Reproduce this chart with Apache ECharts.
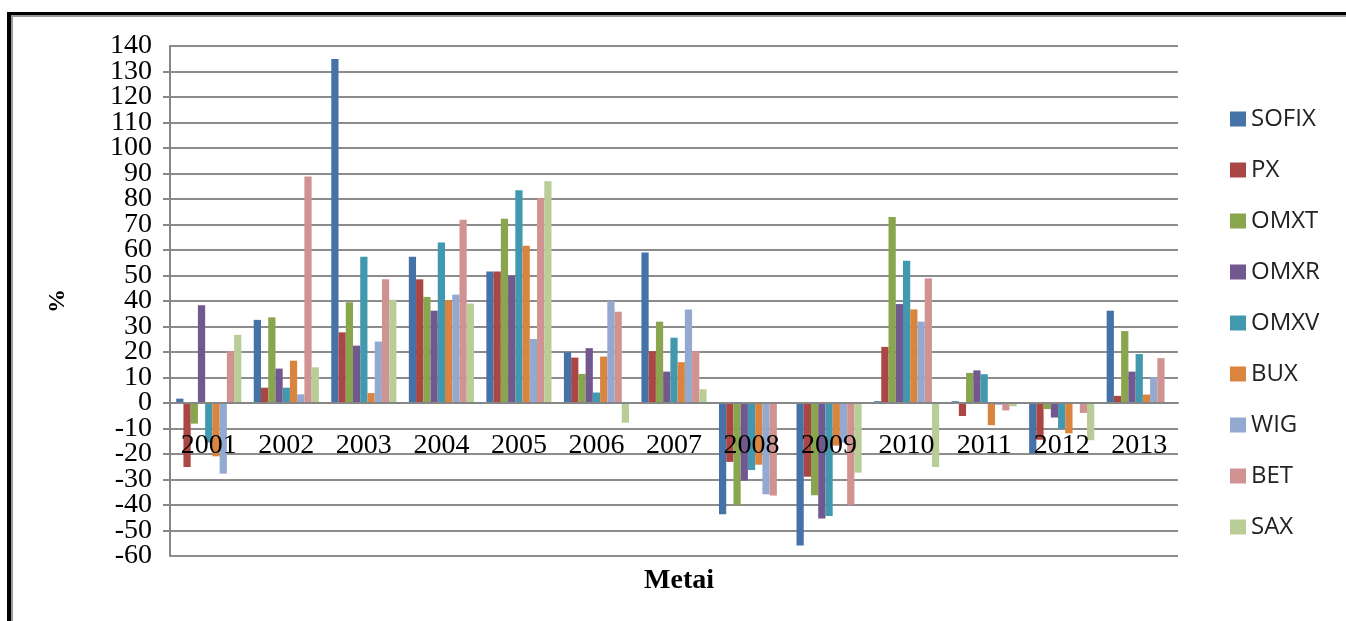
<!DOCTYPE html>
<html>
<head>
<meta charset="utf-8">
<script src="https://cdn.jsdelivr.net/npm/echarts@6/dist/echarts.min.js"></script>
<style>
  html, body { margin: 0; padding: 0; background: #ffffff; }
  #chart { width: 1346px; height: 621px; }
</style>
</head>
<body>
<div id="chart"></div>
<script>
// metai (kategorijos)
var years = ['2001', '2002', '2003', '2004', '2005', '2006', '2007', '2008', '2009', '2010', '2011', '2012', '2013'];

// indeksų metinis pokytis, %
var sofix = [1.7, 32.6, 134.9, 57.4, 51.6, 19.9, 59.0, -43.6, -55.9, 0.7, 0.7, -19.8, 36.2];
var px    = [-25.1, 6.0, 27.7, 48.5, 51.6, 17.8, 20.3, -23.1, -28.9, 22.0, -5.1, -14.4, 2.8];
var omxt  = [-8.1, 33.6, 39.5, 41.6, 72.3, 11.4, 31.9, -39.9, -36.2, 72.9, 11.8, -2.4, 28.2];
var omxr  = [38.3, 13.5, 22.5, 36.2, 50.0, 21.5, 12.3, -30.4, -45.3, 38.8, 12.8, -5.7, 12.3];
var omxv  = [-15.5, 6.0, 57.4, 62.9, 83.4, 4.1, 25.6, -26.3, -44.3, 55.8, 11.3, -10.1, 19.2];
var bux   = [-20.9, 16.6, 3.9, 40.3, 61.7, 18.2, 16.0, -24.2, -16.7, 36.7, -8.7, -11.9, 3.3];
var wig   = [-27.7, 3.4, 24.1, 42.5, 25.1, 40.1, 36.7, -35.8, -15.5, 31.9, -0.7, 0, 10.1];
var bet   = [20.3, 88.8, 48.5, 71.9, 80.3, 35.8, 20.3, -36.3, -39.9, 48.9, -2.9, -3.9, 17.6];
var sax   = [26.7, 14.0, 40.5, 39.0, 87.0, -7.7, 5.4, 0, -27.3, -25.1, -1.3, -14.6, 0];

// ašies ribos
var yMin = -60;
var yMax = 140;
var yStep = 10;

var names = ['SOFIX', 'PX', 'OMXT', 'OMXR', 'OMXV', 'BUX', 'WIG', 'BET', 'SAX'];
var values = [sofix, px, omxt, omxr, omxv, bux, wig, bet, sax];
var colors = ['#4572A7', '#AA4643', '#89A54E', '#71588F', '#4198AF', '#DB843D', '#93A9CF', '#D19392', '#B9CD96'];

var myChart = echarts.init(document.getElementById('chart'));

var gridTop = 46, gridBottom = 65;
var gridHeight = 621 - gridTop - gridBottom;
// kategorijų ašis ties nuliu
var zeroOffset = -(0 - yMin) / (yMax - yMin) * gridHeight;

var labelFont = {
  fontFamily: 'Liberation Serif',
  fontSize: 28,
  color: '#000'
};

var series = [];
for (var i = 0; i < names.length; i++) {
  series.push({
    name: names[i],
    type: 'bar',
    yAxisIndex: 0,
    data: values[i],
    barGap: '0%',
    barCategoryGap: '16%',
    itemStyle: { color: colors[i] }
  });
}

var option = {
  animation: false,
  backgroundColor: '#ffffff',
  color: colors,
  title: {
    text: 'Metai',
    left: 674,
    top: 562,
    textAlign: 'center',
    textStyle: {
      fontFamily: 'Liberation Serif',
      fontWeight: 'bold',
      fontSize: 28,
      color: '#000'
    }
  },
  legend: {
    orient: 'vertical',
    left: 1225,
    top: 102,
    itemWidth: 16,
    itemHeight: 15,
    itemGap: 27,
    icon: 'rect',
    textStyle: {
      fontFamily: 'Open Sans',
      fontSize: 24,
      color: '#222'
    },
    data: names
  },
  grid: {
    left: 170,
    right: 168,
    top: gridTop,
    bottom: gridBottom
  },
  xAxis: {
    type: 'category',
    data: years,
    position: 'bottom',
    offset: zeroOffset,
    axisLine: { onZero: false, lineStyle: { color: '#868686', width: 2 } },
    axisTick: { show: false },
    axisLabel: {
      fontFamily: 'Liberation Serif',
      fontSize: 28,
      color: '#000',
      margin: 29,
      hideOverlap: false
    },
    z: 5
  },
  yAxis: [{
    type: 'value',
    min: yMin,
    max: yMax,
    interval: yStep,
    name: '%',
    nameLocation: 'middle',
    nameGap: 100,
    nameRotate: 90,
    nameTextStyle: {
      fontFamily: 'Liberation Serif',
      fontWeight: 'bold',
      fontSize: 24,
      color: '#000'
    },
    axisLine: { show: true, lineStyle: { color: '#868686', width: 2 } },
    axisTick: { show: true, length: 7, lineStyle: { color: '#868686', width: 2 } },
    axisLabel: Object.assign({
      margin: 18,
      showMinLabel: false,
      showMaxLabel: false,
      hideOverlap: false
    }, labelFont),
    splitLine: { lineStyle: { color: '#8c8c8c', width: 2 } }
  }, {
    // tik kraštinės reikšmės (140 ir -60)
    type: 'value',
    position: 'left',
    min: yMin,
    max: yMax,
    interval: yStep,
    axisLine: { show: false },
    axisTick: { show: false },
    splitLine: { show: false },
    axisLabel: Object.assign({
      margin: 18,
      showMinLabel: true,
      showMaxLabel: true,
      hideOverlap: false,
      formatter: function (v) {
        return (v === yMin || v === yMax) ? String(v) : '';
      }
    }, labelFont)
  }],
  graphic: [
    {
      type: 'rect',
      shape: { x: 9, y: 14, width: 1400, height: 700 },
      style: { fill: null, stroke: '#000', lineWidth: 4 }
    },
    {
      type: 'rect',
      shape: { x: 12, y: 16, width: 1400, height: 700 },
      style: { fill: null, stroke: '#999', lineWidth: 2 }
    }
  ],
  series: series
};

myChart.setOption(option);
window.addEventListener('resize', function () {
  myChart.resize();
});
</script>
</body>
</html>
